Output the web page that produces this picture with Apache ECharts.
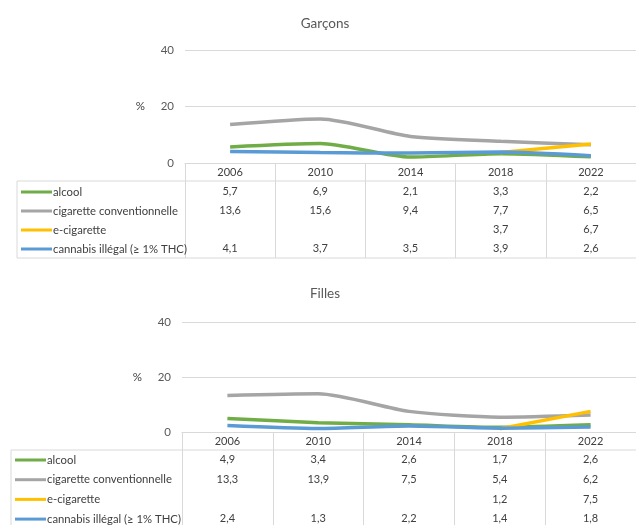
<!DOCTYPE html>
<html>
<head>
<meta charset="utf-8">
<script src="https://cdn.jsdelivr.net/npm/echarts@6/dist/echarts.min.js"></script>
<style>html,body{margin:0;padding:0;background:#fff}#c{width:636px;height:525px}</style>
</head>
<body>
<div id="c"></div>
<script>
const years = ['2006', '2010', '2014', '2018', '2022'];
const seriesNames = ['alcool', 'cigarette conventionnelle', 'e-cigarette', 'cannabis illégal (≥ 1% THC)'];
const seriesColors = ['#70AD47', '#A5A5A5', '#FFC000', '#5B9BD5'];
const panelTitles = ['Garçons', 'Filles'];

const garconsAlcool = [5.7, 6.9, 2.1, 3.3, 2.2];
const garconsCigarette = [13.6, 15.6, 9.4, 7.7, 6.5];
const garconsECigarette = [null, null, null, 3.7, 6.7];
const garconsCannabis = [4.1, 3.7, 3.5, 3.9, 2.6];

const fillesAlcool = [4.9, 3.4, 2.6, 1.7, 2.6];
const fillesCigarette = [13.3, 13.9, 7.5, 5.4, 6.2];
const fillesECigarette = [null, null, null, 1.2, 7.5];
const fillesCannabis = [2.4, 1.3, 2.2, 1.4, 1.8];

const panelData = [
  [garconsAlcool, garconsCigarette, garconsECigarette, garconsCannabis],
  [fillesAlcool, fillesCigarette, fillesECigarette, fillesCannabis]
];

// layout (pixels)
const layouts = [
  { titleX: 325, titleY: 24, gridLeft: 185, gridTop: 50, gridH: 113, gridW: 455, headerBottom: 181, tableBottom: 258, tableLeft: 17, rows: [191, 210, 229, 248], rowH: 19, legendLeft: 21 },
  { titleX: 325, titleY: 294, gridLeft: 182, gridTop: 322, gridH: 110, gridW: 462, headerBottom: 450, tableBottom: 540, tableLeft: 11, rows: [459, 479, 499, 518], rowH: 19.7, legendLeft: 15 }
];

const FONT = 'Lato';
const TXT = '#404040';
const BORDER = '#d9d9d9';
const TABLE_FS = 11;
const fmt = v => (v == null ? '' : v.toFixed(1).replace('.', ','));

const option = {
  backgroundColor: '#fff',
  animation: false,
  textStyle: { fontFamily: FONT },
  title: [], grid: [], xAxis: [], yAxis: [], series: [], legend: [], graphic: []
};

layouts.forEach((L, p) => {
  const gridBottomY = L.gridTop + L.gridH;
  option.title.push({
    text: panelTitles[p], left: L.titleX, textAlign: 'center', top: L.titleY - 7, padding: 0,
    textStyle: { fontFamily: FONT, fontSize: 13.5, fontWeight: 'normal', color: '#595959' }
  });
  option.grid.push({ left: L.gridLeft, top: L.gridTop, width: L.gridW, height: L.gridH });
  const mainIdx = option.xAxis.length;
  option.xAxis.push({
    type: 'category', gridIndex: p, position: 'bottom', data: years, boundaryGap: true,
    axisLine: { show: true, lineStyle: { color: BORDER, width: 1 } },
    axisTick: { show: true, alignWithLabel: false, interval: 0, length: L.tableBottom - gridBottomY, lineStyle: { color: BORDER, width: 1 } },
    axisLabel: { interval: 0, margin: (L.headerBottom - gridBottomY) / 2, verticalAlign: 'middle', color: TXT, fontFamily: FONT, fontSize: TABLE_FS }
  });
  panelData[p].forEach((row, r) => {
    option.xAxis.push({
      type: 'category', gridIndex: p, position: 'bottom', data: years, boundaryGap: true,
      axisLine: { show: false }, axisTick: { show: false }, splitLine: { show: false },
      axisLabel: {
        interval: 0, margin: L.rows[r] - gridBottomY, verticalAlign: 'middle', color: TXT, fontFamily: FONT, fontSize: TABLE_FS,
        formatter: (v, i) => fmt(row[i])
      }
    });
  });
  option.yAxis.push({
    type: 'value', gridIndex: p, min: 0, max: 40, interval: 20,
    name: '%', nameLocation: 'middle', nameRotate: 0, nameGap: 40,
    nameTextStyle: { color: TXT, fontFamily: FONT, fontSize: 11.5 },
    axisLine: { show: false }, axisTick: { show: false },
    axisLabel: { margin: 11, color: '#595959', fontFamily: FONT, fontSize: 11.5 },
    splitLine: { lineStyle: { color: BORDER, width: 1 } }
  });
  panelData[p].forEach((row, r) => {
    option.series.push({
      type: 'line', name: seriesNames[r], xAxisIndex: mainIdx, yAxisIndex: p,
      data: row, symbol: 'none', smooth: 0.25, connectNulls: false,
      lineStyle: { color: seriesColors[r], width: 3.5 }, itemStyle: { color: seriesColors[r] },
      z: 3 + r
    });
  });
  option.legend.push({
    orient: 'vertical', left: L.legendLeft, top: L.rows[0] - L.rowH / 2 + 1, width: 170, height: 120,
    data: seriesNames.map((n, i) => ({ name: n, itemStyle: { color: seriesColors[i], borderWidth: 0 } })),
    icon: 'rect', itemWidth: 31, itemHeight: 3,
    itemGap: 0, padding: 0, selectedMode: false,
    itemStyle: { borderWidth: 0 },
    textStyle: { color: TXT, fontFamily: FONT, fontSize: 11.3, lineHeight: L.rowH, padding: [0, 0, 0, -4] }
  });
  const right = 636;
  option.graphic.push(
    { type: 'line', shape: { x1: L.tableLeft, y1: L.headerBottom, x2: right, y2: L.headerBottom }, style: { stroke: BORDER, lineWidth: 1 }, silent: true },
    { type: 'line', shape: { x1: L.tableLeft, y1: L.tableBottom, x2: right, y2: L.tableBottom }, style: { stroke: BORDER, lineWidth: 1 }, silent: true },
    { type: 'line', shape: { x1: L.tableLeft, y1: L.headerBottom, x2: L.tableLeft, y2: L.tableBottom }, style: { stroke: BORDER, lineWidth: 1 }, silent: true }
  );
});

const chart = echarts.init(document.getElementById('c'), null, { renderer: 'canvas' });
chart.setOption(option);
</script>
</body>
</html>
